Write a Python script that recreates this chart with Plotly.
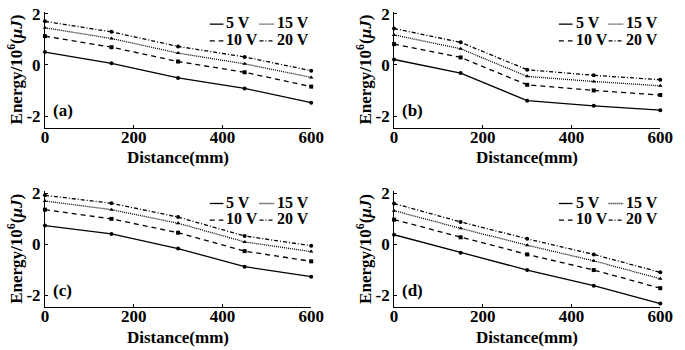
import plotly.graph_objects as go

distance = [0, 150, 300, 450, 600]
series_names = ["5 V", "10 V", "15 V", "20 V"]

# panel (a)
a_5v = [0.50, 0.06, -0.51, -0.92, -1.48]
a_10v = [1.12, 0.69, 0.13, -0.29, -0.85]
a_15v = [1.45, 1.03, 0.46, 0.04, -0.49]
a_20v = [1.70, 1.29, 0.72, 0.31, -0.23]
# panel (b)
b_5v = [0.21, -0.32, -1.40, -1.60, -1.77]
b_10v = [0.81, 0.29, -0.78, -1.00, -1.18]
b_15v = [1.17, 0.63, -0.45, -0.65, -0.82]
b_20v = [1.42, 0.88, -0.19, -0.41, -0.58]
# panel (c)
c_5v = [0.73, 0.40, -0.17, -0.88, -1.27]
c_10v = [1.35, 0.99, 0.45, -0.27, -0.67]
c_15v = [1.69, 1.35, 0.82, 0.09, -0.29]
c_20v = [1.91, 1.60, 1.06, 0.32, -0.06]
# panel (d)
d_5v = [0.37, -0.33, -1.01, -1.62, -2.32]
d_10v = [0.96, 0.27, -0.40, -1.01, -1.72]
d_15v = [1.31, 0.62, -0.04, -0.65, -1.35]
d_20v = [1.59, 0.87, 0.21, -0.40, -1.10]

panels = [
    ("(a)", [a_5v, a_10v, a_15v, a_20v]),
    ("(b)", [b_5v, b_10v, b_15v, b_20v]),
    ("(c)", [c_5v, c_10v, c_15v, c_20v]),
    ("(d)", [d_5v, d_10v, d_15v, d_20v]),
]

x_ticks = [0, 200, 400, 600]
y_ticks = [-2, 0, 2]
y_tick_text = ["-2", "0", "2"]
y_title = "Energy/10<sup>6</sup>(<i>μJ</i>)"
x_title = "Distance(mm)"

W, H = 685, 350
FONT = "Liberation Serif, Times New Roman, serif"
dashes = ["solid", "5px,4px", "1px,1px", "4px,2px,1px,2px"]
symbols = ["circle", "square", "triangle-up", "circle"]

# panel boxes in pixels: left, right, top, bottom
boxes = [(42, 315, 5, 123), (400, 673, 5, 123), (42, 315, 188, 306), (400, 673, 188, 306)]

def px(x):
    return x / W

def py(y):
    return 1 - y / H

fig = go.Figure()
annotations = []
shapes = []

for i, ((label, ys), (L, R, T, B)) in enumerate(zip(panels, boxes)):
    ax = "" if i == 0 else str(i + 1)
    for k, (name, vals) in enumerate(zip(series_names, ys)):
        fig.add_trace(go.Scatter(
            x=distance, y=vals, name=name, mode="lines+markers",
            xaxis="x" + ax, yaxis="y" + ax, showlegend=False,
            line=dict(color="black", width=1.3, dash=dashes[k]),
            marker=dict(color="black", size=4, symbol=symbols[k]),
            cliponaxis=False,
        ))
    axis_font = dict(family=FONT, size=17, color="black", weight="bold")
    fig.update_layout(**{
        "xaxis" + ax: dict(
            domain=[px(L), px(R)], anchor="y" + ax, range=[0, 600],
            tickvals=x_ticks, ticks="inside", ticklen=3, tickcolor="black",
            showline=True, linecolor="black", linewidth=1, showgrid=False,
            zeroline=False, tickfont=axis_font, ticklabelstandoff=-6,
        ),
        "yaxis" + ax: dict(
            domain=[py(B), py(T)], anchor="x" + ax, range=[-2.45, 2.07],
            tickvals=y_ticks, ticktext=y_tick_text, ticks="inside", ticklen=3,
            tickcolor="black",
            showline=True, linecolor="black", linewidth=1, showgrid=False,
            zeroline=False, tickfont=axis_font, ticklabelstandoff=0,
        ),
    })
    # axis titles
    annotations.append(dict(
        text=x_title, x=px((L + R) / 2), y=py(B + 31), xref="paper", yref="paper",
        showarrow=False, xanchor="center", yanchor="middle",
        font=dict(family=FONT, size=17, color="black", weight="bold")))
    annotations.append(dict(
        text=y_title, x=px(L - 31), y=py((T + B) / 2), xref="paper", yref="paper",
        showarrow=False, xanchor="center", yanchor="middle", textangle=-90,
        font=dict(family=FONT, size=17, color="black", weight="bold")))
    # panel label
    annotations.append(dict(
        text=label, x=px(L + 6), y=py(B - 17), xref="paper", yref="paper",
        showarrow=False, xanchor="left", yanchor="middle",
        font=dict(family=FONT, size=17, color="black", weight="bold")))
    # legend (2 x 2)
    rows = [T + 12.5, T + 29.5]
    legend_items = [(0, 0, 0), (1, 1, 0), (2, 0, 1), (3, 1, 1)]  # series idx, row, col
    for k, r, c in legend_items:
        yy = rows[r]
        if c == 0:
            x0, x1, xt = R - 104, R - 90, R - 89
        else:
            x0, x1, xt = R - 53, R - 38, R - 37
        shapes.append(dict(
            type="line", xref="paper", yref="paper",
            x0=px(x0), x1=px(x1), y0=py(yy), y1=py(yy),
            line=dict(color="black", width=1.3, dash=dashes[k])))
        annotations.append(dict(
            text=series_names[k], x=px(xt), y=py(yy - 1.5), xref="paper", yref="paper",
            showarrow=False, xanchor="left", yanchor="middle",
            font=dict(family=FONT, size=16, color="black", weight="bold")))

fig.update_layout(
    width=W, height=H, margin=dict(l=0, r=0, t=0, b=0),
    paper_bgcolor="white", plot_bgcolor="white",
    annotations=annotations, shapes=shapes, showlegend=False,
    font=dict(family=FONT, color="black"),
)

fig.write_html(
    "out.html",
    config={"displayModeBar": False},
    post_script="document.body.style.margin='0';document.body.style.overflow='hidden';",
)
